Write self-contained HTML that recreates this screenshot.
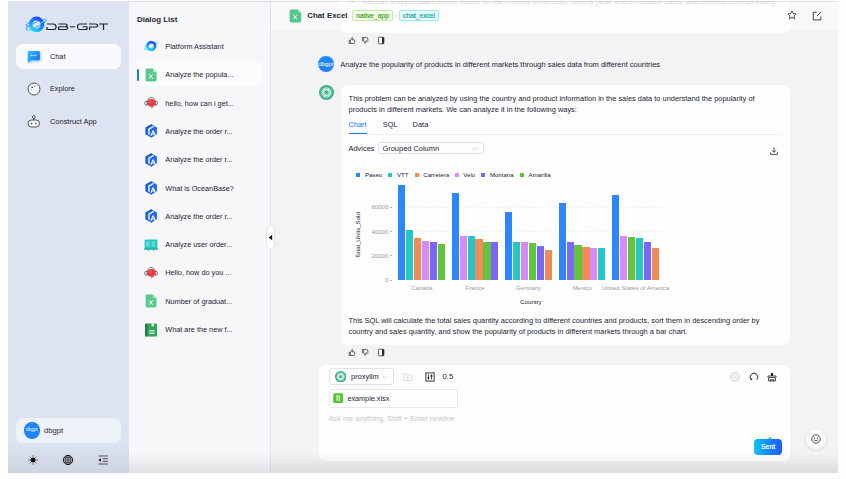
<!DOCTYPE html>
<html>
<head>
<meta charset="utf-8">
<title>DB-GPT</title>
<style>
*{box-sizing:border-box;margin:0;padding:0}
html,body{width:846px;height:479px;overflow:hidden;background:#fdfdfe;font-family:"Liberation Sans",sans-serif;color:#1c2533}
.abs{position:absolute}
#app{position:absolute;left:8px;top:1px;width:830px;height:472px;background:#f3f3f5;overflow:hidden}
#side{position:absolute;left:0;top:0;width:121px;height:472px;background:#dde3f0}
#dlg{position:absolute;left:121px;top:0;width:141px;height:472px;background:#f7f7fa}
#main{position:absolute;left:262px;top:0;width:568px;height:472px;background:#f3f3f5}
.t{position:absolute;white-space:nowrap;line-height:1}
.nav{font-size:7.3px;color:#1c2533}
.di{font-size:7.3px;color:#1c2533;left:36.3px}
.msg{font-size:7.43px;color:#1c2533}
.lg{font-size:6.1px;color:#1c2533}
.ax{font-size:6.1px;color:#9a9ca3}
.bar{position:absolute;width:7.2px}
</style>
</head>
<body>
<div id="app">
<div id="side">
    <svg class="abs" style="left:16px;top:13px" width="24" height="22" viewBox="0 0 24 22">
      <defs>
        <linearGradient id="lg1" x1="0.2" y1="1" x2="0.8" y2="0"><stop offset="0" stop-color="#22d8f0"/><stop offset="0.45" stop-color="#1b8cff"/><stop offset="1" stop-color="#2a45f5"/></linearGradient>
        <linearGradient id="lg2" x1="0" y1="1" x2="1" y2="0"><stop offset="0" stop-color="#4af0e0"/><stop offset="0.5" stop-color="#2aa0ff"/><stop offset="1" stop-color="#55e8f0"/></linearGradient>
      </defs>
      <ellipse cx="12.2" cy="10.6" rx="11.2" ry="2.4" transform="rotate(-27 12.2 10.6)" fill="none" stroke="url(#lg2)" stroke-width="1"/>
      <circle cx="12.5" cy="10.4" r="5.9" fill="none" stroke="url(#lg1)" stroke-width="3.8"/>
      <path d="M17 9 L22.4 5.6" stroke="#5be6f2" stroke-width="1" fill="none" stroke-linecap="round"/>
      <circle cx="2.6" cy="11.2" r="1" fill="#8a6cf7"/>
      <circle cx="4.3" cy="9.2" r="0.7" fill="#5b7cf7"/>
      <circle cx="2.4" cy="8.6" r="0.5" fill="#7fe6f5"/>
    </svg>
    <svg class="abs" style="left:37.8px;top:21.6px" width="62" height="7.6" viewBox="0 0 62 9" preserveAspectRatio="none">
      <g fill="none" stroke="#20242c" stroke-width="1.25" stroke-linejoin="round" stroke-linecap="butt">
        <path d="M1 1.2 H7.2 Q10 1.2 10 4 V4.9 Q10 7.7 7.2 7.7 H1 V4.6"/>
        <path d="M12.6 1.2 H19.4 Q21.2 1.2 21.2 2.8 Q21.2 4.4 19.4 4.4 H12.6 M19.4 4.4 Q21.6 4.4 21.6 6 Q21.6 7.7 19.4 7.7 H12.6 V4.4"/>
        <path d="M24 4.5 H29"/>
        <path d="M41 1.2 H34 Q31.6 1.2 31.6 3.6 V5.3 Q31.6 7.7 34 7.7 H41 V4.5 H36.5"/>
        <path d="M43.6 8.4 V4.7 H49.4 Q51.6 4.7 51.6 2.95 Q51.6 1.2 49.4 1.2 H43"/>
        <path d="M53 1.2 H62 M57.5 1.2 V8.4"/>
      </g>
    </svg>
    <div class="abs" style="left:8px;top:43px;width:105px;height:24.5px;background:#f8fafe;border-radius:7px"></div>
    <svg class="abs" style="left:17.2px;top:48px" width="17.6" height="16" viewBox="0 0 16 16" preserveAspectRatio="none">
      <defs><linearGradient id="cg" x1="0" y1="0.2" x2="1" y2="0.8"><stop offset="0" stop-color="#2cc0ff"/><stop offset="1" stop-color="#1a6aff"/></linearGradient>
      <filter id="cb" x="-50%" y="-50%" width="200%" height="200%"><feGaussianBlur stdDeviation="1.2"/></filter></defs>
      <path d="M2.5 3.2 Q2.5 2 3.7 2 H12.3 Q13.5 2 13.5 3.2 V10 Q13.5 11.2 12.3 11.2 H6 L2.5 14 Z" fill="#5aa6ff" opacity="0.6" filter="url(#cb)" transform="translate(0.8,1.2)"/>
      <path d="M2.5 3.2 Q2.5 2 3.7 2 H12.3 Q13.5 2 13.5 3.2 V10 Q13.5 11.2 12.3 11.2 H5.6 L2.5 13.6 Z" fill="url(#cg)"/>
      <circle cx="6" cy="6.5" r="0.7" fill="#d8f0ff"/><circle cx="8" cy="6.5" r="0.7" fill="#d8f0ff"/><circle cx="10" cy="6.5" r="0.7" fill="#d8f0ff"/>
    </svg>
    <div class="t nav" style="left:42px;top:52px">Chat</div>
    <svg class="abs" style="left:18px;top:79.6px" width="16" height="16" viewBox="0 0 16 16">
      <circle cx="8" cy="8" r="6" fill="#f4f6fb" stroke="#2a2d34" stroke-width="0.8"/>
      <circle cx="6.2" cy="6.2" r="0.8" fill="#2a2d34"/><circle cx="8.6" cy="5.3" r="0.5" fill="#2a2d34"/><circle cx="5.2" cy="8.2" r="0.4" fill="#2a2d34"/>
    </svg>
    <div class="t nav" style="left:42px;top:83.7px">Explore</div>
    <svg class="abs" style="left:17.5px;top:112px" width="16" height="16" viewBox="0 0 16 16">
      <g fill="#f4f6fb" stroke="#2a2d34" stroke-width="0.8">
        <circle cx="7.8" cy="4" r="1.4"/>
        <path d="M7.8 5.4 V7" fill="none"/>
        <rect x="2" y="7" width="11.6" height="7" rx="3.5"/>
      </g>
      <circle cx="5.7" cy="10.6" r="0.75" fill="#2a2d34"/><circle cx="9.9" cy="10.6" r="0.75" fill="#2a2d34"/>
    </svg>
    <div class="t nav" style="left:42px;top:116.5px;font-size:7.45px">Construct App</div>
    <div class="abs" style="left:8px;top:417px;width:105px;height:25px;background:#eef2fa;border-radius:7px"></div>
    <div class="abs" style="left:15.5px;top:421px;width:16.5px;height:16.5px;border-radius:50%;background:#1b84ff;color:#fff;font-size:4.6px;line-height:16px;text-align:center">dbgpt</div>
    <div class="t nav" style="left:36px;top:425.8px;color:#2a2d34;font-size:7.6px">dbgpt</div>
    <svg class="abs" style="left:19px;top:453px" width="12" height="12" viewBox="0 0 12 12">
      <circle cx="6" cy="6" r="2.5" fill="#111"/>
      <g stroke="#111" stroke-width="0.75" stroke-linecap="round"><path d="M6 1.7V2.2M6 9.8V10.3M1.7 6H2.2M9.8 6H10.3M3 3L3.3 3.3M8.7 8.7L9 9M3 9L3.3 8.7M8.7 3.3L9 3"/></g>
    </svg>
    <svg class="abs" style="left:54px;top:453px" width="12" height="12" viewBox="0 0 12 12">
      <g fill="none" stroke="#111"><circle cx="6" cy="6" r="4.6" stroke-width="1"/><ellipse cx="6" cy="6" rx="2.3" ry="4.6" stroke-width="0.7"/><path d="M1.4 6H10.6M6 1.4V10.6M2.2 3.7H9.8M2.2 8.3H9.8" stroke-width="0.7"/></g>
    </svg>
    <svg class="abs" style="left:88.8px;top:453.3px" width="12" height="12" viewBox="0 0 12 12">
      <g stroke="#111" stroke-width="0.7" fill="none"><path d="M1.5 2H10.8M5.6 4.7H10.8M5.6 7.3H10.8M1.5 10H10.8"/></g>
      <path d="M1.3 6 L4 4.2 V7.8 Z" fill="#111"/>
    </svg>
</div>
<div id="dlg"><div class="t" style="left:8px;top:14.5px;font-size:7.9px;font-weight:bold;color:#1c2533">Dialog List</div>
<div class="abs" style="left:7.5px;top:61.2px;width:125.5px;height:24px;background:#fcfcfe;border-radius:5px"></div>
<div class="abs" style="left:8px;top:67.5px;width:2px;height:12px;background:#1b74ff;border-radius:1px"></div>
<div class="abs" style="left:13.8px;top:37.30px;width:16px;height:16px"><svg width="16" height="16" viewBox="0 0 16 16"><circle cx="8" cy="8" r="8" fill="#fbfbfd"/><ellipse cx="8" cy="8" rx="7.4" ry="1.8" transform="rotate(-27 8 8)" fill="none" stroke="#45d4f5" stroke-width="0.8"/><circle cx="8.2" cy="8" r="3.9" fill="none" stroke="url(#lg1)" stroke-width="2.6"/><circle cx="1.6" cy="8" r="0.6" fill="#8a6cf7"/></svg></div><div class="t di" style="top:41.90px">Platform Assistant</div>
<div class="abs" style="left:13.8px;top:65.62px;width:16px;height:16px"><svg width="16" height="16" viewBox="0 0 16 16"><path d="M2.6 3 Q2.6 1.6 4 1.6 H10 L13.6 5.2 V13 Q13.6 14.4 12.2 14.4 H4 Q2.6 14.4 2.6 13 Z" fill="#5bc98f"/><path d="M10 1.6 L13.6 5.2 H11 Q10 5.2 10 4.2 Z" fill="#aee8c8"/><path d="M6.4 7.4 L9.6 11.6 M9.6 7.4 L6.4 11.6" stroke="#fff" stroke-width="1" fill="none"/></svg></div><div class="t di" style="top:70.22px">Analyze the popula...</div>
<div class="abs" style="left:13.8px;top:93.94px;width:16px;height:16px"><svg width="16" height="16" viewBox="0 0 16 16"><circle cx="8" cy="8" r="8" fill="#fbfbfd"/><path d="M4.6 7 Q4.6 2.6 8.2 2.6 Q11.8 2.6 11.8 7" fill="none" stroke="#3c3c44" stroke-width="0.7"/><rect x="1.8" y="6.2" width="2.8" height="4" rx="1.3" fill="#fbfbfd" stroke="#3c3c44" stroke-width="0.7"/><rect x="11.6" y="6.2" width="2.8" height="4" rx="1.3" fill="#fbfbfd" stroke="#3c3c44" stroke-width="0.7"/><path d="M4 6 V10.4 M12.4 6 V10.4" stroke="#3c3c44" stroke-width="0.6"/><path d="M10.6 10.6 Q10.4 12.6 8 12.8" fill="none" stroke="#3c3c44" stroke-width="0.6"/><circle cx="8.3" cy="7.9" r="3.8" fill="#f2353f"/><circle cx="7.4" cy="6.9" r="1.6" fill="#ff6a70" opacity="0.55"/></svg></div><div class="t di" style="top:98.54px">hello, how can i get...</div>
<div class="abs" style="left:13.8px;top:122.26px;width:16px;height:16px"><svg width="16" height="16" viewBox="0 0 16 16"><circle cx="8" cy="8" r="8" fill="#fbfbfd"/><path d="M8.3 1.2 L13.9 4.5 V11.3 L8.3 14.7 L2.6 11.3 V4.5 Z" fill="#2468f2"/><path d="M8.3 1.2 L2.6 4.5 V11.3 L4.4 12.4 V5.6 L10 2.2Z" fill="#1b5be6"/><path d="M10.6 3.4 L5.9 6.2 V11.8" stroke="#f4f8ff" stroke-width="1.4" fill="none"/><path d="M7.4 12.8 L9.5 7.4 H10.7 L12.7 12.3 L11.6 12.8 L11.1 11.5 H9 L8.5 12.9Z M9.4 10.4 H10.7 L10.05 8.7Z" fill="#fff"/></svg></div><div class="t di" style="top:126.86px">Analyze the order r...</div>
<div class="abs" style="left:13.8px;top:150.58px;width:16px;height:16px"><svg width="16" height="16" viewBox="0 0 16 16"><circle cx="8" cy="8" r="8" fill="#fbfbfd"/><path d="M8.3 1.2 L13.9 4.5 V11.3 L8.3 14.7 L2.6 11.3 V4.5 Z" fill="#2468f2"/><path d="M8.3 1.2 L2.6 4.5 V11.3 L4.4 12.4 V5.6 L10 2.2Z" fill="#1b5be6"/><path d="M10.6 3.4 L5.9 6.2 V11.8" stroke="#f4f8ff" stroke-width="1.4" fill="none"/><path d="M7.4 12.8 L9.5 7.4 H10.7 L12.7 12.3 L11.6 12.8 L11.1 11.5 H9 L8.5 12.9Z M9.4 10.4 H10.7 L10.05 8.7Z" fill="#fff"/></svg></div><div class="t di" style="top:155.18px">Analyze the order r...</div>
<div class="abs" style="left:13.8px;top:178.90px;width:16px;height:16px"><svg width="16" height="16" viewBox="0 0 16 16"><circle cx="8" cy="8" r="8" fill="#fbfbfd"/><path d="M8.3 1.2 L13.9 4.5 V11.3 L8.3 14.7 L2.6 11.3 V4.5 Z" fill="#2468f2"/><path d="M8.3 1.2 L2.6 4.5 V11.3 L4.4 12.4 V5.6 L10 2.2Z" fill="#1b5be6"/><path d="M10.6 3.4 L5.9 6.2 V11.8" stroke="#f4f8ff" stroke-width="1.4" fill="none"/><path d="M7.4 12.8 L9.5 7.4 H10.7 L12.7 12.3 L11.6 12.8 L11.1 11.5 H9 L8.5 12.9Z M9.4 10.4 H10.7 L10.05 8.7Z" fill="#fff"/></svg></div><div class="t di" style="top:183.50px">What is OceanBase?</div>
<div class="abs" style="left:13.8px;top:207.22px;width:16px;height:16px"><svg width="16" height="16" viewBox="0 0 16 16"><circle cx="8" cy="8" r="8" fill="#fbfbfd"/><path d="M8.3 1.2 L13.9 4.5 V11.3 L8.3 14.7 L2.6 11.3 V4.5 Z" fill="#2468f2"/><path d="M8.3 1.2 L2.6 4.5 V11.3 L4.4 12.4 V5.6 L10 2.2Z" fill="#1b5be6"/><path d="M10.6 3.4 L5.9 6.2 V11.8" stroke="#f4f8ff" stroke-width="1.4" fill="none"/><path d="M7.4 12.8 L9.5 7.4 H10.7 L12.7 12.3 L11.6 12.8 L11.1 11.5 H9 L8.5 12.9Z M9.4 10.4 H10.7 L10.05 8.7Z" fill="#fff"/></svg></div><div class="t di" style="top:211.82px">Analyze the order r...</div>
<div class="abs" style="left:13.8px;top:235.54px;width:16px;height:16px"><svg width="16" height="16" viewBox="0 0 16 16"><rect x="1.6" y="2.6" width="12.8" height="9.4" rx="0.8" fill="#2cc6c4"/><rect x="1" y="11.4" width="14" height="1.4" rx="0.6" fill="#15a5a6"/><path d="M5.4 13 V14.2 M10.6 13 V14.2" stroke="#15a5a6" stroke-width="0.8"/><path d="M4 5 V9.6 M4 5 H7 M4 6.8 H6.4 M4 8.4 H7 M8.6 5.6 H11.8 M8.6 7.2 H11.8 M8.6 8.8 H11.8" stroke="#a6f2ee" stroke-width="0.7" fill="none"/></svg></div><div class="t di" style="top:240.14px">Analyze user order...</div>
<div class="abs" style="left:13.8px;top:263.86px;width:16px;height:16px"><svg width="16" height="16" viewBox="0 0 16 16"><circle cx="8" cy="8" r="8" fill="#fbfbfd"/><path d="M4.6 7 Q4.6 2.6 8.2 2.6 Q11.8 2.6 11.8 7" fill="none" stroke="#3c3c44" stroke-width="0.7"/><rect x="1.8" y="6.2" width="2.8" height="4" rx="1.3" fill="#fbfbfd" stroke="#3c3c44" stroke-width="0.7"/><rect x="11.6" y="6.2" width="2.8" height="4" rx="1.3" fill="#fbfbfd" stroke="#3c3c44" stroke-width="0.7"/><path d="M4 6 V10.4 M12.4 6 V10.4" stroke="#3c3c44" stroke-width="0.6"/><path d="M10.6 10.6 Q10.4 12.6 8 12.8" fill="none" stroke="#3c3c44" stroke-width="0.6"/><circle cx="8.3" cy="7.9" r="3.8" fill="#f2353f"/><circle cx="7.4" cy="6.9" r="1.6" fill="#ff6a70" opacity="0.55"/></svg></div><div class="t di" style="top:268.46px">Hello, how do you ...</div>
<div class="abs" style="left:13.8px;top:292.18px;width:16px;height:16px"><svg width="16" height="16" viewBox="0 0 16 16"><path d="M2.6 3 Q2.6 1.6 4 1.6 H10 L13.6 5.2 V13 Q13.6 14.4 12.2 14.4 H4 Q2.6 14.4 2.6 13 Z" fill="#5bc98f"/><path d="M10 1.6 L13.6 5.2 H11 Q10 5.2 10 4.2 Z" fill="#aee8c8"/><path d="M6.4 7.4 L9.6 11.6 M9.6 7.4 L6.4 11.6" stroke="#fff" stroke-width="1" fill="none"/></svg></div><div class="t di" style="top:296.78px">Number of graduat...</div>
<div class="abs" style="left:13.8px;top:320.50px;width:16px;height:16px"><svg width="16" height="16" viewBox="0 0 16 16"><rect x="2.2" y="1.4" width="11.8" height="13.2" rx="1.2" fill="#2fa35a"/><rect x="2.2" y="1.4" width="2" height="13.2" rx="0.8" fill="#1c7a3e"/><path d="M8.6 1.4 H11 V4.8 L9.8 3.9 L8.6 4.8Z" fill="#fff"/><rect x="6.4" y="8" width="5.2" height="1.3" fill="#f2fff6"/><rect x="6.4" y="10.6" width="5.2" height="1.3" fill="#f2fff6"/></svg></div><div class="t di" style="top:325.10px">What are the new f...</div>
</div>
<div id="main"><div class="abs" style="left:0;top:0;width:568px;height:29px;background:#f9f9fb"></div>
<div class="abs" style="left:70px;top:-6px;width:450.4px;height:37.8px;background:#fdfdfe;border-radius:6px"></div>
<div class="t" style="left:81px;top:-3px;font-size:7.4px;color:#d9dbe0">•&nbsp;&nbsp;&nbsp;&nbsp;You can analyze sales trends based on the monthly dimension, identify peak and off-season sales, and develop corresponding</div>
<svg class="abs" style="left:19px;top:7.5px" width="13" height="14" viewBox="0 0 13 14"><path d="M0.6 2 Q0.6 0.4 2.2 0.4 H8.8 L12.2 3.8 V11.8 Q12.2 13.4 10.6 13.4 H2.2 Q0.6 13.4 0.6 11.8 Z" fill="#52c88c"/><path d="M8.8 0.4 L12.2 3.8 H9.8 Q8.8 3.8 8.8 2.8 Z" fill="#8fdcb4"/><path d="M4.6 5.8 L8 10.2 M8 5.8 L4.6 10.2" stroke="#fff" stroke-width="1" fill="none"/></svg>
<div class="t" style="left:37.2px;top:11.4px;font-size:7.9px;font-weight:bold;color:#232a38">Chat Excel</div>
<div class="abs" style="left:82.3px;top:9.2px;width:40.6px;height:10.7px;-webkit-text-stroke:0.2px #3fa31a;border:0.6px solid #c4ee9f;background:#f6ffed;border-radius:2px;color:#3fa31a;font-size:6.7px;line-height:9px;text-align:center">native_app</div>
<div class="abs" style="left:128.8px;top:9.2px;width:40.6px;height:10.7px;-webkit-text-stroke:0.2px #10a3a8;border:0.6px solid #9cecE4;background:#e6fffb;border-radius:2px;color:#10a3a8;font-size:6.7px;line-height:9px;text-align:center">chat_excel</div>
<div class="abs" style="left:124.5px;top:13.6px;width:2.6px;height:2.6px;border-radius:50%;background:#e3e5ea"></div>
<svg class="abs" style="left:517.1px;top:9.2px" width="10" height="10" viewBox="0 0 11 11"><path d="M5.5 1 L6.9 3.9 L10.1 4.3 L7.8 6.5 L8.4 9.7 L5.5 8.1 L2.6 9.7 L3.2 6.5 L0.9 4.3 L4.1 3.9 Z" fill="none" stroke="#24262c" stroke-width="0.85" stroke-linejoin="round"/></svg>
<svg class="abs" style="left:542.4px;top:9.6px" width="10" height="10" viewBox="0 0 11 11"><g fill="none" stroke="#24262c" stroke-width="0.95" stroke-linejoin="round"><path d="M9.8 6 V9.8 H1.4 V1.4 H5.2"/><path d="M5.6 5.6 L9.8 1.2"/></g></svg>
<svg class="abs" style="left:77px;top:35px" width="44" height="10" viewBox="0 0 44 10">
<g fill="none" stroke="#2a2c33" stroke-width="0.7" stroke-linejoin="round">
<path d="M2.2 4.3 H3.5 V7.5 H2.2 Z M3.5 4.4 L5 1.5 Q6 1.6 5.8 2.7 L5.6 3.9 H7.3 Q8 3.9 7.9 4.7 L7.4 7 Q7.3 7.5 6.7 7.5 H3.5"/>
<path d="M15.3 4.6 H16.6 V1.4 H15.3 Z M16.6 4.5 L18.1 7.4 Q19.1 7.3 18.9 6.2 L18.7 5 H20.4 Q21.1 5 21 4.2 L20.5 1.9 Q20.4 1.4 19.8 1.4 H16.6"/>
<rect x="31.5" y="1.2" width="5.4" height="6.6" rx="1" stroke-width="0.8" fill="#fdfdfe"/>
</g>
<path d="M35 1.2 H36 Q37 1.2 37 2.2 V6.8 Q37 7.8 36 7.8 H35 Z" fill="#2a2c33"/>
<rect x="26.1" y="1.6" width="0.5" height="5.8" fill="#e6e6ea"/>
</svg>
<div class="abs" style="left:48.1px;top:54.8px;width:16.3px;height:16.3px;border-radius:50%;background:linear-gradient(180deg,#1a8cff,#2a7dff);color:#fff;font-size:6.2px;line-height:16px;text-align:left;text-indent:0.1px;overflow:hidden">dbgpt</div>
<div class="t msg" style="left:70.3px;top:59.6px;font-size:7.48px">Analyze the popularity of products in different markets through sales data from different countries</div>
<svg class="abs" style="left:48.7px;top:84.2px" width="15" height="15" viewBox="0 0 16 16"><circle cx="8" cy="8" r="8" fill="#3aa882"/><circle cx="8" cy="8" r="7" fill="#4cb690"/><g fill="none" stroke="#fff" stroke-width="0.75"><rect x="5.3" y="3" width="5.4" height="10" rx="2.7"/><rect x="5.3" y="3" width="5.4" height="10" rx="2.7" transform="rotate(60 8 8)"/><rect x="5.3" y="3" width="5.4" height="10" rx="2.7" transform="rotate(120 8 8)"/></g></svg>
<div class="abs" style="left:70.5px;top:84px;width:449.9px;height:260px;background:#fdfdfe;border-radius:6px"></div>
<div class="t msg" style="left:78.6px;top:93.6px">This problem can be analyzed by using the country and product information in the sales data to understand the popularity of</div>
<div class="t msg" style="left:78.6px;top:104.9px">products in different markets. We can analyze it in the following ways:</div>
<div class="t msg" style="left:78.5px;top:119.6px;color:#1677ff">Chart</div><div class="t msg" style="left:112.7px;top:119.6px">SQL</div><div class="t msg" style="left:142.6px;top:119.6px">Data</div>
<div class="abs" style="left:78.5px;top:132.6px;width:433px;height:0.6px;background:#f2f2f5"></div><div class="abs" style="left:78.5px;top:131.8px;width:18px;height:1.2px;background:#1677ff"></div>
<div class="t msg" style="left:78.5px;top:143.5px">Advices</div>
<div class="abs" style="left:108.4px;top:141.4px;width:105.3px;height:12px;border:0.6px solid #dcdee3;border-radius:2.5px;background:#fefeff"></div><div class="t msg" style="left:112.5px;top:143.5px">Grouped Column</div>
<svg class="abs" style="left:201px;top:144.5px" width="8" height="6" viewBox="0 0 8 6"><path d="M1.2 1.4 L4 4.2 L6.8 1.4" fill="none" stroke="#c4c6cc" stroke-width="0.7"/></svg>
<svg class="abs" style="left:499px;top:144.5px" width="10" height="10" viewBox="0 0 10 10"><g fill="none" stroke="#24262c" stroke-width="0.8"><path d="M5 1.4 V6.2 M2.9 4.2 L5 6.3 L7.1 4.2 M1.6 6.4 V8.4 H8.4 V6.4"/></g></svg>
<div class="abs" style="left:86.2px;top:171.6px;width:4.2px;height:4.2px;background:#2b86ff"></div><div class="t lg" style="left:94.9px;top:170.5px">Paseo</div>
<div class="abs" style="left:118.3px;top:171.6px;width:4.2px;height:4.2px;background:#27c6c6"></div><div class="t lg" style="left:127.0px;top:170.5px">VTT</div>
<div class="abs" style="left:144.6px;top:171.6px;width:4.2px;height:4.2px;background:#f08c56"></div><div class="t lg" style="left:153.3px;top:170.5px">Carretera</div>
<div class="abs" style="left:184.6px;top:171.6px;width:4.2px;height:4.2px;background:#d68bfb"></div><div class="t lg" style="left:193.3px;top:170.5px">Velo</div>
<div class="abs" style="left:211.2px;top:171.6px;width:4.2px;height:4.2px;background:#7a66f7"></div><div class="t lg" style="left:219.9px;top:170.5px">Montana</div>
<div class="abs" style="left:249.9px;top:171.6px;width:4.2px;height:4.2px;background:#62c33e"></div><div class="t lg" style="left:258.6px;top:170.5px">Amarilla</div>
<div class="t ax" style="right:449.6px;top:276.4px">0</div><div class="abs" style="left:119.8px;top:278.75px;width:2px;height:0.5px;background:#b5b7bd"></div>
<div class="t ax" style="right:449.6px;top:252.1px">20000</div><div class="abs" style="left:119.8px;top:254.42px;width:2px;height:0.5px;background:#b5b7bd"></div>
<div class="abs" style="left:124.0px;top:254.42px;width:269px;height:0;border-top:0.5px dashed #f3f3f6"></div>
<div class="t ax" style="right:449.6px;top:227.7px">40000</div><div class="abs" style="left:119.8px;top:230.09px;width:2px;height:0.5px;background:#b5b7bd"></div>
<div class="abs" style="left:124.0px;top:230.09px;width:269px;height:0;border-top:0.5px dashed #f3f3f6"></div>
<div class="t ax" style="right:449.6px;top:203.4px">60000</div><div class="abs" style="left:119.8px;top:205.76px;width:2px;height:0.5px;background:#b5b7bd"></div>
<div class="abs" style="left:124.0px;top:205.76px;width:269px;height:0;border-top:0.5px dashed #f3f3f6"></div>
<div class="t lg" style="left:57.6px;top:230.8px;width:60px;text-align:center;transform:rotate(-90deg)">Total_Units_Sold</div>
<div class="bar" style="left:128.30px;top:183.99px;height:95.01px;background:#2b86ff"></div><div class="bar" style="left:136.20px;top:228.88px;height:50.12px;background:#27c6c6"></div><div class="bar" style="left:144.10px;top:236.70px;height:42.30px;background:#f08c56"></div><div class="bar" style="left:152.00px;top:239.59px;height:39.41px;background:#d68bfb"></div><div class="bar" style="left:159.90px;top:240.80px;height:38.20px;background:#7a66f7"></div><div class="bar" style="left:167.80px;top:243.36px;height:35.64px;background:#62c33e"></div><div class="t ax" style="left:101.7px;width:100px;text-align:center;top:283.8px">Canada</div>
<div class="bar" style="left:181.75px;top:191.59px;height:87.41px;background:#2b86ff"></div><div class="bar" style="left:189.65px;top:234.51px;height:44.49px;background:#d68bfb"></div><div class="bar" style="left:197.55px;top:235.47px;height:43.53px;background:#27c6c6"></div><div class="bar" style="left:205.45px;top:237.66px;height:41.34px;background:#f08c56"></div><div class="bar" style="left:213.35px;top:240.56px;height:38.44px;background:#62c33e"></div><div class="bar" style="left:221.25px;top:241.17px;height:37.83px;background:#7a66f7"></div><div class="t ax" style="left:155.1px;width:100px;text-align:center;top:283.8px">France</div>
<div class="bar" style="left:235.20px;top:211.00px;height:68.00px;background:#2b86ff"></div><div class="bar" style="left:243.10px;top:241.11px;height:37.89px;background:#27c6c6"></div><div class="bar" style="left:251.00px;top:241.17px;height:37.83px;background:#d68bfb"></div><div class="bar" style="left:258.90px;top:241.71px;height:37.29px;background:#62c33e"></div><div class="bar" style="left:266.80px;top:244.94px;height:34.06px;background:#7a66f7"></div><div class="bar" style="left:274.70px;top:248.89px;height:30.11px;background:#f08c56"></div><div class="t ax" style="left:208.6px;width:100px;text-align:center;top:283.8px">Germany</div>
<div class="bar" style="left:288.65px;top:202.12px;height:76.88px;background:#2b86ff"></div><div class="bar" style="left:296.55px;top:240.50px;height:38.50px;background:#7a66f7"></div><div class="bar" style="left:304.45px;top:244.39px;height:34.61px;background:#62c33e"></div><div class="bar" style="left:312.35px;top:245.79px;height:33.21px;background:#f08c56"></div><div class="bar" style="left:320.25px;top:246.76px;height:32.24px;background:#d68bfb"></div><div class="bar" style="left:328.15px;top:247.25px;height:31.75px;background:#27c6c6"></div><div class="t ax" style="left:262.1px;width:100px;text-align:center;top:283.8px">Mexico</div>
<div class="bar" style="left:342.10px;top:194.33px;height:84.67px;background:#2b86ff"></div><div class="bar" style="left:350.00px;top:235.08px;height:43.92px;background:#d68bfb"></div><div class="bar" style="left:357.90px;top:235.81px;height:43.19px;background:#62c33e"></div><div class="bar" style="left:365.80px;top:236.91px;height:42.09px;background:#27c6c6"></div><div class="bar" style="left:373.70px;top:240.50px;height:38.50px;background:#7a66f7"></div><div class="bar" style="left:381.60px;top:247.49px;height:31.51px;background:#f08c56"></div><div class="t ax" style="left:315.5px;width:100px;text-align:center;top:283.8px">United States of America</div>
<div class="t lg" style="left:230.9px;width:60px;text-align:center;top:298.1px;font-size:6.2px">Country</div>
<div class="t msg" style="left:78.5px;top:315.5px">This SQL will calculate the total sales quantity according to different countries and products, sort them in descending order by</div>
<div class="t msg" style="left:78.5px;top:327px">country and sales quantity, and show the popularity of products in different markets through a bar chart.</div>
<svg class="abs" style="left:77px;top:346.6px" width="44" height="10" viewBox="0 0 44 10">
<g fill="none" stroke="#2a2c33" stroke-width="0.7" stroke-linejoin="round">
<path d="M2.2 4.3 H3.5 V7.5 H2.2 Z M3.5 4.4 L5 1.5 Q6 1.6 5.8 2.7 L5.6 3.9 H7.3 Q8 3.9 7.9 4.7 L7.4 7 Q7.3 7.5 6.7 7.5 H3.5"/>
<path d="M15.3 4.6 H16.6 V1.4 H15.3 Z M16.6 4.5 L18.1 7.4 Q19.1 7.3 18.9 6.2 L18.7 5 H20.4 Q21.1 5 21 4.2 L20.5 1.9 Q20.4 1.4 19.8 1.4 H16.6"/>
<rect x="31.5" y="1.2" width="5.4" height="6.6" rx="1" stroke-width="0.8" fill="#fdfdfe"/>
</g>
<path d="M35 1.2 H36 Q37 1.2 37 2.2 V6.8 Q37 7.8 36 7.8 H35 Z" fill="#2a2c33"/>
<rect x="26.1" y="1.6" width="0.5" height="5.8" fill="#e6e6ea"/>
</svg>
<div class="abs" style="left:49.3px;top:363.6px;width:471.1px;height:96px;background:#fdfdfe;border-radius:6px"></div>
<div class="abs" style="left:58.7px;top:367.2px;width:65px;height:16.4px;border:0.6px solid #e0e2e7;border-radius:2.5px;background:#fefeff"></div>
<svg class="abs" style="left:64.8px;top:370.1px" width="11.4" height="11.4" viewBox="0 0 16 16"><circle cx="8" cy="8" r="8" fill="#3aa882"/><circle cx="8" cy="8" r="7" fill="#4cb690"/><g fill="none" stroke="#fff" stroke-width="0.9"><rect x="5.3" y="3" width="5.4" height="10" rx="2.7"/><rect x="5.3" y="3" width="5.4" height="10" rx="2.7" transform="rotate(60 8 8)"/><rect x="5.3" y="3" width="5.4" height="10" rx="2.7" transform="rotate(120 8 8)"/></g></svg>
<div class="t msg" style="left:81px;top:371.9px">proxyllm</div>
<svg class="abs" style="left:111px;top:372.8px" width="8" height="6" viewBox="0 0 8 6"><path d="M1.2 1.4 L4 4.2 L6.8 1.4" fill="none" stroke="#c4c6cc" stroke-width="0.7"/></svg>
<svg class="abs" style="left:132.4px;top:370.7px" width="11" height="10" viewBox="0 0 11 10"><g fill="none" stroke="#d0d2d8" stroke-width="0.8" stroke-linejoin="round"><path d="M1.2 1.8 H4.4 L5.4 3 H9.8 V8.4 H1.2 Z"/><path d="M5.5 4.6 V7 M4.3 5.8 H6.7"/></g></svg>
<svg class="abs" style="left:155px;top:370.9px" width="10" height="10" viewBox="0 0 10 10"><rect x="0.9" y="0.9" width="8.2" height="8.2" fill="none" stroke="#24262c" stroke-width="0.9"/><path d="M3.5 2.4 V7.6 M6.5 2.4 V7.6" stroke="#24262c" stroke-width="0.8"/><rect x="2.6" y="5" width="1.8" height="1.6" fill="#24262c"/><rect x="5.6" y="3.2" width="1.8" height="1.6" fill="#24262c"/></svg>
<div class="t msg" style="left:172.6px;top:372.3px;font-size:7.7px">0.5</div>
<div class="abs" style="left:58.7px;top:387.6px;width:129.7px;height:19px;border:0.6px solid #e8e9ee;border-radius:3px;background:#fefeff"></div>
<svg class="abs" style="left:63.3px;top:392.2px" width="10.2" height="10.2" viewBox="0 0 10 10"><rect x="0.2" y="0.2" width="9.6" height="9.6" rx="1.4" fill="#52c234"/><path d="M3.2 2.2 H6 L7 3.2 V7.8 H3.2 Z" fill="#c8f0b8"/><path d="M4 4.6 H6.2 M4 5.8 H6.2 M4 7 H6.2" stroke="#52c234" stroke-width="0.5"/></svg>
<div class="t msg" style="left:77.4px;top:393.9px;font-size:7.25px">example.xlsx</div>
<div class="t msg" style="left:58.7px;top:413.6px;font-size:7.35px;color:#c6c8ce">Ask me anything, Shift + Enter newline</div>
<svg class="abs" style="left:460.4px;top:371px" width="10" height="10" viewBox="0 0 10 10"><g fill="none" stroke="#b9bbc2"><circle cx="5" cy="5" r="4.2" stroke-width="0.8"/><path d="M3.9 3.2 V6.8 M6.1 3.2 V6.8" stroke-width="0.7"/></g></svg>
<svg class="abs" style="left:478.6px;top:371px" width="10" height="10" viewBox="0 0 10 10"><path d="M2.2 7.6 A3.8 3.8 0 1 1 7.8 7.6" fill="none" stroke="#24262c" stroke-width="1"/><path d="M1 6.4 L2.3 8.6 L3.8 6.8 Z" fill="#24262c"/></svg>
<svg class="abs" style="left:497px;top:371px" width="10" height="10" viewBox="0 0 10 10"><g fill="none" stroke="#24262c" stroke-width="0.85"><path d="M1.6 5.6 H8.4 V9 H1.6 Z M3.4 7 V9 M5 7 V9 M6.6 7 V9"/><path d="M1 5.4 V4 H9 V5.4"/></g><rect x="3.9" y="1" width="2.2" height="3" fill="#24262c"/></svg>
<div class="abs" style="left:495.5px;top:433.5px;width:9px;height:9px;border-radius:50%;background:#fff;border:0.5px solid #eceef2"></div><div class="abs" style="left:497.7px;top:436px;width:4.6px;height:4.6px;border-radius:50%;background:#6fc3a3"></div>
<div class="abs" style="left:483.7px;top:437.6px;width:28.8px;height:16px;border-radius:4px;background:linear-gradient(90deg,#0cc5f2,#1a72ff 70%,#1c5cf8);color:#fff;font-size:6.9px;line-height:16px;text-align:center;-webkit-text-stroke:0.2px #fff">Sent</div>
<div class="abs" style="left:535.7px;top:428px;width:20px;height:20px;border-radius:50%;background:#fdfdfe;box-shadow:0 1px 4px rgba(0,0,0,0.10)"></div>
<svg class="abs" style="left:540.7px;top:433px" width="10" height="10" viewBox="0 0 10 10"><g fill="none" stroke="#24262c" stroke-width="0.8"><circle cx="5" cy="5" r="4.2"/><path d="M3.1 5.9 Q5 7.9 6.9 5.9"/></g><circle cx="3.5" cy="3.9" r="0.6" fill="#24262c"/><circle cx="6.5" cy="3.9" r="0.6" fill="#24262c"/></svg>
</div>
<div class="abs" style="left:262px;top:0;width:1px;height:472px;background:#dae4fa"></div><div class="abs" style="left:258.2px;top:223.8px;width:8.4px;height:24.5px;background:#fdfdfe;border-radius:4.2px;border:0.5px solid #e4e5ea"></div><svg class="abs" style="left:259.6px;top:233px" width="5" height="7" viewBox="0 0 5 7"><path d="M0.6 3.5 L4.2 0.8 V6.2 Z" fill="#111"/></svg>
<div class="abs" style="left:121px;top:0;width:709px;height:0.8px;background:rgba(0,0,0,0.10)"></div><div class="abs" style="left:0;top:440px;width:121px;height:32px;background:linear-gradient(to bottom,rgba(0,0,20,0),rgba(0,0,20,0.07))"></div><div class="abs" style="left:121px;top:452px;width:709px;height:20px;background:linear-gradient(to bottom,rgba(0,0,0,0),rgba(0,0,0,0.095))"></div>

</div>
</body>
</html>
